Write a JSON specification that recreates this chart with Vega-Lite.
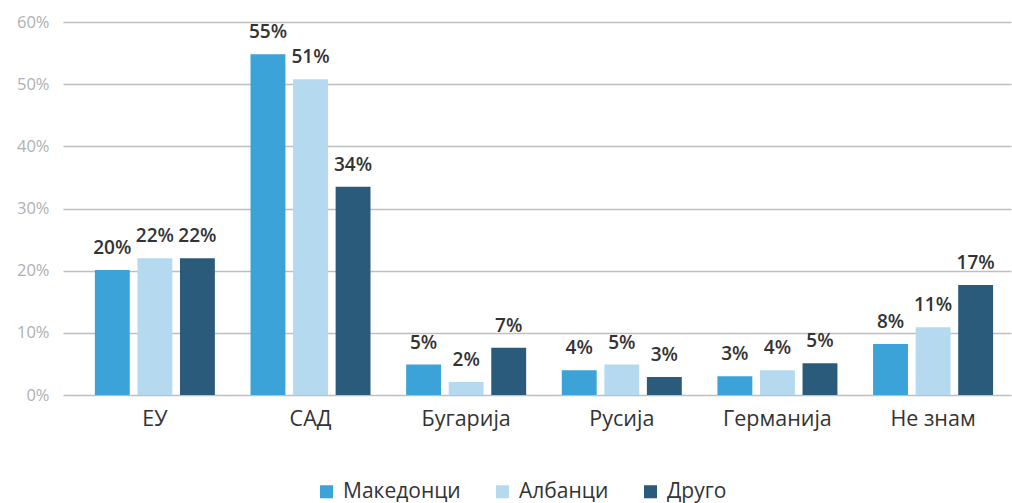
{
  "$schema": "https://vega.github.io/schema/vega-lite/v6.json",
  "autosize": "none",
  "width": 948,
  "height": 373,
  "padding": {"left": 63, "top": 22, "right": 1, "bottom": 108},
  "background": "white",
  "config": {
    "font": "Open Sans",
    "view": {"stroke": null}
  },
  "data": {
    "values": [
      {"c": "ЕУ", "g": "Македонци", "v": 20.1, "l": "20%"},
      {"c": "ЕУ", "g": "Албанци", "v": 22.0, "l": "22%"},
      {"c": "ЕУ", "g": "Друго", "v": 22.0, "l": "22%"},
      {"c": "САД", "g": "Македонци", "v": 54.8, "l": "55%"},
      {"c": "САД", "g": "Албанци", "v": 50.8, "l": "51%"},
      {"c": "САД", "g": "Друго", "v": 33.5, "l": "34%"},
      {"c": "Бугарија", "g": "Македонци", "v": 4.9, "l": "5%"},
      {"c": "Бугарија", "g": "Албанци", "v": 2.1, "l": "2%"},
      {"c": "Бугарија", "g": "Друго", "v": 7.6, "l": "7%"},
      {"c": "Русија", "g": "Македонци", "v": 4.0, "l": "4%"},
      {"c": "Русија", "g": "Албанци", "v": 4.9, "l": "5%"},
      {"c": "Русија", "g": "Друго", "v": 2.9, "l": "3%"},
      {"c": "Германија", "g": "Македонци", "v": 3.0, "l": "3%"},
      {"c": "Германија", "g": "Албанци", "v": 4.0, "l": "4%"},
      {"c": "Германија", "g": "Друго", "v": 5.1, "l": "5%"},
      {"c": "Не знам", "g": "Македонци", "v": 8.2, "l": "8%"},
      {"c": "Не знам", "g": "Албанци", "v": 10.9, "l": "11%"},
      {"c": "Не знам", "g": "Друго", "v": 17.7, "l": "17%"}
    ]
  },
  "encoding": {
    "x": {
      "field": "c", "type": "nominal", "sort": null,
      "scale": {"paddingInner": 0.229, "paddingOuter": 0.16, "align": 0.64},
      "axis": {
        "title": null, "labelAngle": 0, "ticks": false, "domain": false,
        "labelFontSize": 21.5, "labelColor": "#333333", "labelPadding": 13, "grid": false
      }
    },
    "xOffset": {"field": "g", "type": "nominal", "sort": ["Македонци", "Албанци", "Друго"], "scale": {"paddingInner": 0.18}},
    "y": {
      "field": "v", "type": "quantitative",
      "scale": {"domain": [0, 60], "nice": false},
      "axis": {
        "title": null, "values": [0, 10, 20, 30, 40, 50, 60],
        "labelExpr": "datum.value + '%'",
        "ticks": false, "domain": false, "labelPadding": 14,
        "labelFontSize": 16.5, "labelColor": "#b0b0b0",
        "gridColor": "#bfbfbf", "gridWidth": 1.5
      }
    }
  },
  "layer": [
    {
      "mark": {"type": "bar"},
      "encoding": {
        "color": {
          "field": "g", "type": "nominal",
          "sort": ["Македонци", "Албанци", "Друго"],
          "scale": {"domain": ["Македонци", "Албанци", "Друго"], "range": ["#3BA3D7", "#B5DAF0", "#2B5B7B"]},
          "legend": {
            "title": null, "orient": "none", "direction": "horizontal",
            "legendX": 253, "legendY": 459,
            "symbolType": "square", "symbolSize": 170, "symbolStrokeWidth": 0, "symbolOffset": 0,
            "labelFontSize": 21, "labelColor": "#333333", "labelOffset": 6, "columnPadding": 31
          }
        }
      }
    },
    {
      "mark": {"type": "text", "baseline": "alphabetic", "dy": -16, "fontSize": 19, "fontWeight": 600, "color": "#333333"},
      "encoding": {"text": {"field": "l"}}
    }
  ]
}
